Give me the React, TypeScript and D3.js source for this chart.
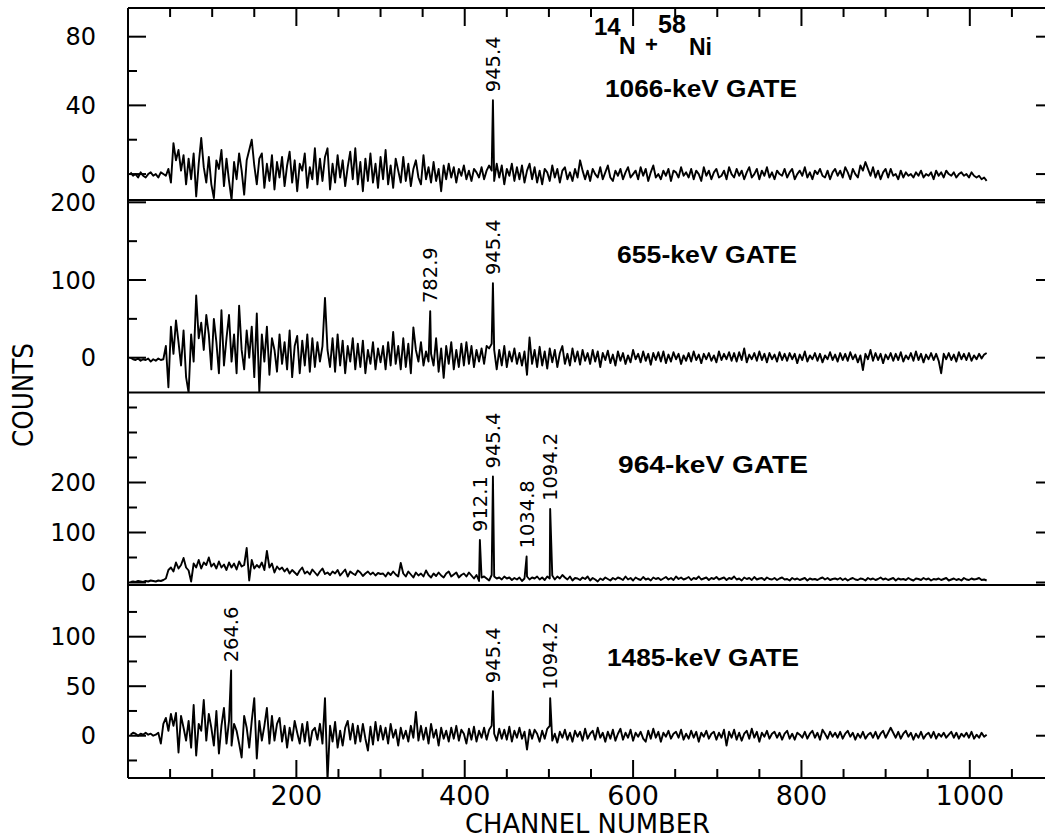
import React from 'react';
import * as d3 from 'd3';

// counts, one value every 3 channels (ch 3 .. 1020), 60 channels per row
const CH_STEP = 3;

const gate1066 = [
  1, -1, 0, -2, 1, -1, -2, 0, 1, -1, 0, -2, 1, 0, -1, 3, -5, 18, 8, 14,
  2, 11, -6, 9, -3, 12, -13, 6, 21, 4, -5, 10, -6, -14, 8, 3, 14, -7, 9, -4,
  -15, 7, -3, 12, 2, -12, 8, 14, 20, 5, -6, 9, 12, -8, 6, -4, 11, -9, 7, -2,
  10, -7, 5, 13, -5, 8, -10, 6, 2, 12, -8, 4, -3, 15, -6, 9, -4, 10, 15, -9,
  6, -5, 11, -2, 8, -7, 4, 13, -3, 15, -6, 7, -10, 9, -4, 12, -5, 6, -8, 10,
  -3, 14, -6, 5, -8, 9, 2, -5, 10, -4, 6, -7, 3, 8, -2, -6, 11, -3, 4, -5,
  7, -4, 3, -10, 5, -3, 6, -2, 4, -5, 3, -1, 5, -3, 2, -4, 3, 1, -2, 4,
  -3, 2, 5, 2, -4, 6, -2, 5, -6, 3, -1, 6, -4, 4, -3, 5, -5, 2, 6, -3,
  4, -5, 2, -6, 3, 1, -4, 5, -2, 3, -5, 2, 4, -3, 1, -4, 3, -2, 8, 2,
  -3, 2, -4, 3, 0, -2, 4, -3, 1, 5, -2, -4, 2, -1, 3, -3, 1, 4, -2, 0,
  2, -3, 4, -1, 3, -4, 1, 5, -2, 0, -3, 2, -1, 3, -4, 2, 1, -2, 4, -1,
  1, -2, 3, -3, 2, 0, -4, 4, -1, 2, -3, 1, 3, -2, -1, 2, -3, 4, 0, -2,
  3, -1, 2, -3, 1, 4, -2, 0, 3, -3, 2, -1, 4, -2, 1, -3, 2, 0, -1, 3,
  -2, 1, 3, -3, 0, 2, -1, 4, -2, 1, -3, 2, 0, 3, -1, -2, 2, -3, 1, 3,
  -1, 2, -2, 4, 1, -3, 3, 0, -2, 5, 2, 7, 3, -1, 4, -2, 2, -3, 1, 3,
  -2, 3, -1, 0, -3, 2, -2, 1, -1, 0, -2, 1, -1, 2, -2, 0, -1, 1, -3, 2,
  -1, 1, -2, 2, 0, -1, 1, -2, 0, 1, -1, 0, -2, 1, -1, -2, -1, -3, -2, -4,
];

const gate655 = [
  0, -2, -3, -1, -4, -2, -3, -1, -5, -2, -4, -1, -3, -2, 15, -38, 40, 5, 48, 20,
  -10, 35, -25, -45, 30, -5, 80, 25, 45, 10, 55, 30, -15, 50, 20, -20, 61, -10, 25, 55,
  -5, 30, -20, 67, 10, -15, 35, 0, 40, -25, 57, -45, 30, -5, 40, -22, 25, 10, -18, 30,
  -8, 20, -15, 35, -25, 15, 28, -20, 22, -10, 30, -18, 25, -12, 20, -5, 15, 77, 10, -12,
  25, -18, 30, -10, 22, -20, 15, -5, 25, -15, 18, -12, 22, -20, 10, -8, 20, -15, 12, -6,
  15, -15, 20, -10, 33, -8, 15, -15, 25, -12, 18, -20, 39, 10, -5, 20, -10, 8, -5, 5,
  -10, 25, -18, 12, -26, 15, -8, 20, -15, 10, -12, 18, -10, 20, -8, 15, -12, 10, -5, 12,
  -8, 15, 12, 18, 10, -15, 10, -10, 15, -12, 8, -5, 12, -8, 6, -10, 8, -22, 26, -8,
  10, -12, 14, -10, 8, -14, 12, -6, 10, -12, 6, 15, -8, 5, -10, 12, -5, 8, -9, 10,
  -4, 6, -8, 10, -5, 8, -12, 6, -3, 9, -7, 4, -10, 8, -4, 6, -8, 3, -6, 10,
  -2, 5, -6, 8, -4, 5, -9, 6, -3, 7, -5, 8, -7, 4, -5, 7, -2, 5, -8, 3,
  -4, 6, -5, 8, -3, 4, -7, 5, -2, 6, -4, 3, -6, 8, -3, 5, -2, 7, -4, 6,
  -5, 7, -3, 12, -6, 4, -2, 6, -4, 8, -3, 5, -6, 6, -2, 4, -5, 7, -3, 5,
  -4, 6, -2, 5, -7, 4, -3, 8, -5, 3, -2, 6, -4, 5, -6, 3, -2, 7, -3, 4,
  -5, 6, -3, 5, -4, 7, -2, 4, -6, 3, -16, 5, -2, 10, -4, 6, -3, 5, -7, 4,
  -2, 6, -4, 5, -3, 7, -5, 3, -2, 6, -4, 8, -3, 5, -6, 4, -2, 6, -3, 5,
  -4, -20, 5, -2, 6, -3, 4, -5, 7, -2, 5, -3, 6, -4, 3, -2, 5, -1, 4, 6,
];

const gate964 = [
  1, 2, 1, 3, 2, 1, 3, 2, 4, 3, 2, 4, 3, 5, 8, 25, 30, 22, 40, 28,
  35, 49, 30, 24, 2, 38, 30, 45, 28, 40, 35, 50, 32, 38, 28, 42, 30, 36, 25, 40,
  30, 38, 26, 42, 32, 35, 69, 4, 45, 28, 35, 30, 40, 25, 63, 30, 38, 20, 32, 26,
  30, 22, 28, 18, 25, 20, 15, 24, 30, 18, 22, 16, 26, 20, 14, 22, 28, 17, 20, 15,
  22, 18, 25, 14, 20, 26, 12, 22, 18, 15, 24, 20, 13, 18, 22, 16, 20, 14, 19, 17,
  18, 12, 20, 15, 22, 16, 12, 39, 18, 12, 22, 16, 10, 20, 14, 18, 12, 24, 15, 10,
  18, 13, 20, 14, 10, 18, 22, 12, 16, 20, 10, 15, 18, 12, 20, 14, 8, 15, 3, 10,
  12, 8, 4, 15, 12, 8, 10, 6, 12, 8, 10, 5, 9, 6, 10, 3, 8, 12, 6, 10,
  8, 12, 6, 10, 5, 12, 8, 14, 6, 12, 8, 15, 10, 6, 12, 4, 9, 8, 5, 10,
  7, 12, 4, 9, 6, 2, 8, 5, 10, 7, 4, 9, 6, 10, 8, 5, 12, 6, 9, 4,
  10, 7, 5, 11, 6, 8, 4, 10, 7, 9, 5, 8, 11, 6, 9, 5, 12, 7, 10, 6,
  8, 11, 5, 9, 7, 12, 6, 8, 10, 5, 9, 7, 11, 6, 8, 10, 5, 9, 7, 12,
  6, 8, 4, 10, 7, 9, 5, 11, 6, 8, 9, 5, 10, 7, 6, 9, 5, 8, 10, 6,
  7, 4, 9, 6, 8, 5, 7, 9, 4, 8, 6, 7, 5, 8, 10, 6, 9, 5, 7, 8,
  6, 9, 5, 8, 4, 7, 9, 6, 5, 8, 7, 4, 9, 6, 8, 5, 7, 10, 6, 8,
  5, 7, 9, 4, 8, 6, 7, 5, 9, 6, 4, 8, 7, 5, 9, 6, 8, 4, 7, 6,
  8, 5, 7, 9, 4, 6, 8, 5, 7, 4, 9, 6, 5, 8, 6, 7, 9, 5, 6, 4,
];

const gate1485 = [
  1, 3, 2, 0, 2, 1, 3, 1, 2, 0, 1, 3, -8, 12, 18, 5, 22, 10, 23, -17,
  20, 8, -5, 15, -12, 31, -20, 12, 5, 36, -5, 22, 8, -10, 25, -18, 10, 28, -8, 15,
  -10, 12, 5, -8, -22, 20, 8, -12, 15, 38, -23, 15, -5, 10, 28, -8, 20, -5, 12, 18,
  -6, 10, -12, 8, -5, 15, 3, -8, 12, -6, 14, -10, 5, 8, -4, 12, -8, 38, -45, 10,
  -6, 14, -12, 5, -10, 8, 15, -4, 12, -8, 10, -6, 12, -3, -15, 9, -9, 14, -5, 10,
  -4, 8, -8, 12, -2, 6, -10, 8, -3, 5, -6, 10, -2, 24, -5, 10, -4, 8, -8, 12,
  -2, 6, -10, 8, -3, 5, -6, 8, -3, 10, -5, 6, 2, -8, 7, -4, 9, -6, 5, -2,
  8, -4, 6, 10, 2, -5, 7, -3, 6, -4, 9, -6, 5, -2, 8, -3, 4, -14, 6, -3,
  6, 2, -6, 5, -3, 7, 10, -5, 2, -7, 4, -2, 6, -4, 3, -6, 5, -1, 4, -5,
  7, -3, 2, 5, -4, 8, -2, 3, -6, 4, -3, 6, -5, 2, 7, -4, 3, -2, 6, -5,
  3, -1, 4, -3, -6, 5, -3, 7, -2, 4, -6, 3, -1, 5, -3, 2, 4, -2, 6, -4,
  2, -3, 5, -2, 4, -6, 3, -1, 5, -3, 2, 4, -4, 3, -2, 6, -10, 4, -2, 6,
  -4, 3, -5, 2, 5, -3, 7, -2, 4, -6, 3, -1, 5, -3, 2, 4, -2, 3, -4, 2,
  5, -3, 2, -4, 3, 1, -2, 4, -3, 2, 5, -2, 3, -4, 6, 2, -3, 4, -1, 3,
  -2, 4, -3, 2, 5, -1, 3, -4, 2, -2, 4, -3, 1, 3, -2, 4, -3, 2, 5, -2,
  3, 8, 3, -2, 4, -3, 2, 5, -1, 3, -4, 2, -2, 4, -3, 1, 3, -2, 4, -3,
  2, -1, 3, -2, 1, 4, -2, 3, -3, 2, -1, 3, -2, 4, -3, 1, -2, 3, -1, 1,
];

// labelled photopeaks: channel, peak counts, energy label (keV)
const peaks1066 = [{ ch: 433.5, counts: 43, label: '945.4' }];
const peaks655 = [
  { ch: 359, counts: 60, label: '782.9' },
  { ch: 433.5, counts: 96, label: '945.4' },
];
const peaks964 = [
  { ch: 418, counts: 85, label: '912.1' },
  { ch: 433.5, counts: 212, label: '945.4' },
  { ch: 473.5, counts: 52, label: '1034.8' },
  { ch: 501.5, counts: 147, label: '1094.2' },
];
const peaks1485 = [
  { ch: 122.5, counts: 66, label: '264.6' },
  { ch: 433.5, counts: 45, label: '945.4' },
  { ch: 501.5, counts: 38, label: '1094.2' },
];

const gateLabels = ['1066-keV GATE', '655-keV GATE', '964-keV GATE', '1485-keV GATE'];
const yMajorTicks = [[0, 40, 80], [0, 100, 200], [0, 100, 200], [0, 50, 100]];
const yMinorStep = [20, 50, 50, 25];
const xTickLabels = [200, 400, 600, 800, 1000];

const W = 1045;
const H = 838;
const LEFT = 128;
const RIGHT = 1054;
const plotFont = '"DejaVu Sans", sans-serif';
const gateFont = '"Liberation Sans", Arial, sans-serif';

const panels = [
  { counts: gate1066, peaks: peaks1066, top: 8, bottom: 200, domain: [-15.1, 96.7], gate: { x: 605, y: 97, len: 192 } },
  { counts: gate655, peaks: peaks655, top: 200, bottom: 392.5, domain: [-44.8, 203], gate: { x: 617, y: 263, len: 180 } },
  { counts: gate964, peaks: peaks964, top: 392.5, bottom: 585, domain: [-5, 380], gate: { x: 618, y: 473, len: 190 } },
  { counts: gate1485, peaks: peaks1485, top: 585, bottom: 778, domain: [-42.7, 152.2], gate: { x: 607, y: 666, len: 192 } },
];

const x = d3.scaleLinear().domain([0, 1100]).range([LEFT, RIGHT]);

export default function App() {
  const xMinor = d3.range(50, 1100, 50);
  return (
    <div style={{ position: 'absolute', left: 0, top: 0, background: '#fff' }}>
      <svg width={W} height={H} viewBox={`0 0 ${W} ${H}`}>
        <rect width={W} height={H} fill="#fff" />
        <defs>
          {panels.map((p, i) => (
            <clipPath id={`clip${i}`} key={i}>
              <rect x={LEFT} y={p.top} width={RIGHT - LEFT} height={p.bottom - p.top} />
            </clipPath>
          ))}
        </defs>

        {panels.map((p, i) => {
          const y = d3.scaleLinear().domain(p.domain).range([p.bottom, p.top]);
          const pts: [number, number][] = p.counts.map((c, j) => [(j + 1) * CH_STEP, c]);
          p.peaks.forEach((pk) => pts.push([pk.ch, pk.counts]));
          pts.sort((a, b) => a[0] - b[0]);
          const line = d3.line<[number, number]>().x((d) => x(d[0])).y((d) => y(d[1]));
          const majors = yMajorTicks[i];
          const minors = d3
            .range(Math.ceil(p.domain[0] / yMinorStep[i]) * yMinorStep[i], p.domain[1], yMinorStep[i])
            .filter((v) => !majors.includes(v) && y(v) > p.top + 4 && y(v) < p.bottom - 4);
          return (
            <g key={i}>
              <line x1={LEFT} x2={W} y1={p.bottom} y2={p.bottom} stroke="#000" strokeWidth={2} />
              {majors.map((v) => (
                <g key={`M${v}`}>
                  <line x1={LEFT} x2={LEFT + 18} y1={y(v)} y2={y(v)} stroke="#000" strokeWidth={2} />
                  <line x1={RIGHT - 18} x2={RIGHT} y1={y(v)} y2={y(v)} stroke="#000" strokeWidth={2} />
                  <text x={96} y={y(v)} dy="0.36em" textAnchor="end" fontFamily={plotFont} fontSize={24} fill="#000">
                    {v}
                  </text>
                </g>
              ))}
              {minors.map((v) => (
                <g key={`m${v}`}>
                  <line x1={LEFT} x2={LEFT + 9} y1={y(v)} y2={y(v)} stroke="#000" strokeWidth={2} />
                  <line x1={RIGHT - 9} x2={RIGHT} y1={y(v)} y2={y(v)} stroke="#000" strokeWidth={2} />
                </g>
              ))}
              <path d={line(pts) || ''} fill="none" stroke="#000" strokeWidth={1.9} strokeLinejoin="round" clipPath={`url(#clip${i})`} />
              {p.peaks.map((pk) => {
                const px = x(pk.ch);
                const py = y(pk.counts) - 8;
                return (
                  <text
                    key={pk.label}
                    transform={`translate(${px},${py}) rotate(-90)`}
                    dy="0.36em"
                    fontFamily={plotFont}
                    fontSize={19.5}
                    fill="#000"
                  >
                    {pk.label}
                  </text>
                );
              })}
              <text
                x={p.gate.x}
                y={p.gate.y}
                textLength={p.gate.len}
                lengthAdjust="spacingAndGlyphs"
                fontFamily={gateFont}
                fontWeight="bold"
                fontSize={23}
                fill="#000"
              >
                {gateLabels[i]}
              </text>
            </g>
          );
        })}

        {/* frame: top border and left axis */}
        <line x1={LEFT} x2={W} y1={8} y2={8} stroke="#000" strokeWidth={2} />
        <line x1={LEFT} x2={LEFT} y1={8} y2={778} stroke="#000" strokeWidth={2} />

        {xMinor.map((c) => {
          const len = c % 200 === 0 ? 18 : 9;
          return (
            <g key={c}>
              <line x1={x(c)} x2={x(c)} y1={8} y2={8 + len} stroke="#000" strokeWidth={2} />
              <line x1={x(c)} x2={x(c)} y1={778} y2={778 - len} stroke="#000" strokeWidth={2} />
            </g>
          );
        })}
        {xTickLabels.map((c) => (
          <text key={c} x={x(c)} y={805} textAnchor="middle" fontFamily={plotFont} fontSize={27} fill="#000">
            {c}
          </text>
        ))}
        <text x={465} y={833} textLength={245} lengthAdjust="spacingAndGlyphs" fontFamily={plotFont} fontSize={27} fill="#000">
          CHANNEL NUMBER
        </text>
        <text
          transform="translate(33,395) rotate(-90)"
          textAnchor="middle"
          textLength={104}
          lengthAdjust="spacingAndGlyphs"
          fontFamily={plotFont}
          fontSize={28}
          fill="#000"
        >
          COUNTS
        </text>

        {/* reaction label 14N + 58Ni */}
        <g fontFamily={gateFont} fontWeight="bold" fill="#000">
          <text x={594} y={35} fontSize={24}>14</text>
          <text x={619} y={54} fontSize={23}>N</text>
          <text x={645} y={52} fontSize={22}>+</text>
          <text x={658} y={33} fontSize={25}>58</text>
          <text x={689} y={55} fontSize={23}>Ni</text>
        </g>
      </svg>
    </div>
  );
}
